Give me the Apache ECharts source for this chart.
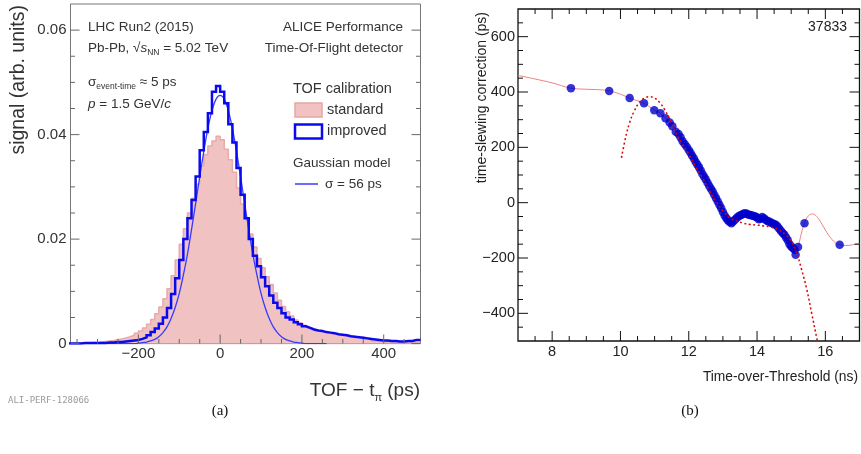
<!DOCTYPE html>
<html><head><meta charset="utf-8">
<script src="https://cdn.jsdelivr.net/npm/echarts@6/dist/echarts.min.js"></script>
<style>html,body{margin:0;padding:0;background:#fff;}#c{width:861px;height:454px;}</style>
</head><body><div id="c"></div>
<script>
// ---------- Panel (a): TOF - t_pi histograms (10 ps bins from -370 ps) ----------
const BIN_FIRST_EDGE = -370;   // ps
const BIN_WIDTH = 10;          // ps
const standardVals = [
  0.0000,0.0001,0.0001,0.0001,0.0001,0.0002,0.0002,0.0003,0.0004,0.0005,
  0.0006,0.0008,0.0009,0.0011,0.0013,0.0016,0.0020,0.0024,0.0030,0.0037,
  0.0046,0.0057,0.0070,0.0086,0.0105,0.0130,0.0160,0.0190,0.0220,0.0250,
  0.0278,0.0305,0.0340,0.0362,0.0378,0.0388,0.0397,
  0.0390,0.0372,0.0352,0.0328,0.0298,0.0267,0.0240,0.0210,0.0185,0.0163,
  0.0145,0.0128,0.0113,0.0097,0.0083,0.0071,0.0061,0.0053,0.0045,0.0040,
  0.0035,0.0031,0.0028,0.0025,0.0023,0.0021,0.0020,0.0018,0.0017,0.0016,
  0.0015,0.0014,0.0013,0.0012,0.0012,0.0011,0.0010,0.0005,
  0.0004,0.0004,0.0003,0.0003,0.0003,0.0003,0.0003,0.0002,0.0002,0.0002,0.0002];
const improvedVals = [
  0.0000,0.0000,0.0000,0.0001,0.0001,0.0001,0.0001,0.0001,0.0001,0.0002,
  0.0002,0.0003,0.0003,0.0004,0.0005,0.0006,0.0007,0.0009,0.0012,0.0016,
  0.0022,0.0029,0.0038,0.0050,0.0068,0.0095,0.0125,0.0160,0.0200,0.0240,
  0.0275,0.0320,0.0370,0.0405,0.0441,0.0482,0.0493,
  0.0482,0.0460,0.0420,0.0385,0.0336,0.0285,0.0240,0.0200,0.0168,0.0148,
  0.0127,0.0110,0.0092,0.0078,0.0068,0.0058,0.0050,0.0046,0.0041,0.0037,
  0.0033,0.0030,0.0027,0.0025,0.0024,0.0022,0.0021,0.0020,0.0018,0.0017,
  0.0016,0.0014,0.0013,0.0012,0.0011,0.0010,0.0009,0.0008,0.0007,0.0006,
  0.0006,0.0005,0.0005,0.0004,0.0004,0.0005,0.0005,0.0007,0.0007];
const gaussT = [-360,-350,-340,-330,-320,-310,-300,-290,-280,-270,-260,-250,-240,-230,-220,-210,
  -200,-190,-180,-170,-160,-150,-140,-130,-120,-110,-100,-90,-80,-70,-60,-50,-40,-30,-20,-10,
  0,10,20,30,40,50,60,70,80,90,100,110,120,130,140,150,160,170,180,190,200,210,220,230,240,250,260];
const gaussVals = [0,0,0,0,0,0,0,0,0,0,0,0,0,0,0,0,
  0.0001,0.0002,0.0003,0.0005,0.0008,0.0013,0.0021,0.0032,0.0048,0.0069,0.0096,0.0131,0.0171,0.0218,0.0268,0.0319,0.0368,0.0412,0.0446,0.0468,
  0.0475,0.0468,0.0446,0.0412,0.0368,0.0319,0.0268,0.0218,0.0171,0.0131,0.0096,0.0069,0.0048,0.0032,0.0021,0.0013,0.0008,0.0005,0.0003,0.0002,0.0001,0,0,0,0,0,0];
const aXMajor = [-200,0,200,400];
const aXMinor = [-350,-300,-250,-150,-100,-50,50,100,150,250,300,350,450];
const aYMajor = [0,0.02,0.04,0.06];
const aYMinor = [0.005,0.01,0.015,0.025,0.03,0.035,0.045,0.05,0.055];

// ---------- Panel (b): time-slewing correction ----------
const totX = [8.55,9.67,10.27,10.69,10.99,11.17,11.32,11.44,11.52,11.62,11.70,11.76,11.82,11.88,11.94,
  12.00,12.05,12.10,12.15,12.20,12.25,12.30,12.35,12.40,12.45,12.50,12.55,12.60,12.65,12.70,12.75,
  12.80,12.85,12.90,12.95,13.00,13.05,13.10,13.15,13.20,13.25,13.30,13.35,13.40,13.45,13.50,13.55,
  13.60,13.65,13.70,13.75,13.80,13.85,13.90,13.95,14.00,14.05,14.10,14.15,14.20,14.25,14.30,14.35,
  14.40,14.45,14.50,14.55,14.60,14.65,14.70,14.75,14.80,14.85,14.90,14.95,15.00,15.05,15.10,15.13,
  15.20,15.39,16.42];
const totY = [414,404,378,359,334,323,305,290,276,256,248,236,222,212,202,
  190,180,170,160,148,138,128,116,104,94,84,72,60,50,40,28,
  16,4,-8,-20,-34,-46,-56,-64,-70,-74,-68,-62,-55,-50,-46,-44,
  -40,-38,-40,-44,-45,-46,-48,-50,-54,-60,-58,-52,-56,-62,-66,-68,
  -72,-74,-78,-80,-86,-94,-102,-110,-116,-126,-136,-150,-158,-164,-170,-188,
  -160,-74,-152];
const curveX = [7,7.5,8,8.55,9.0,9.4,9.67,10.0,10.27,10.69,11.0,11.17,11.32,11.44,11.54,11.64,11.8,12.0,
  12.2,12.4,12.6,12.8,13.0,13.15,13.25,13.4,13.6,13.8,14.0,14.2,14.4,14.6,14.8,15.0,15.13,15.2,15.3,
  15.39,15.5,15.62,15.75,15.9,16.1,16.3,16.42,16.6,16.8,17];
const curveY = [460,447,433,414,410,408,404,392,378,359,334,323,305,290,275,256,226,190,
  148,104,60,16,-34,-64,-72,-56,-40,-45,-54,-56,-72,-86,-116,-158,-175,-160,-110,
  -74,-48,-41,-50,-78,-118,-146,-152,-155,-152,-148];
const fitX = [10.03,10.15,10.27,10.4,10.55,10.7,10.86,11.0,11.15,11.3,11.45,11.6,11.8,12.0,12.2,12.4,
  12.6,12.8,13.0,13.2,13.4,13.6,13.8,14.0,14.2,14.4,14.6,14.8,15.0,15.15,15.3,15.45,15.6,15.75,15.8];
const fitY = [162,235,290,330,362,378,383,378,362,335,298,258,215,175,130,90,
  45,5,-30,-55,-66,-74,-79,-81,-84,-88,-96,-112,-140,-178,-240,-310,-400,-490,-520];
const bXMajor = [8,10,12,14,16];
const bXMinor = [7.5,8.5,9,9.5,10.5,11,11.5,12.5,13,13.5,14.5,15,15.5,16.5];
const bYMajor = [-400,-200,0,200,400,600];
const bYMinor = [-450,-350,-300,-250,-150,-100,-50,50,100,150,250,300,350,450,500,550,650];

const F = '"Liberation Sans", Arial, Helvetica, sans-serif';
const A_X = [-366, 490], A_Y = [0, 0.065];
const B_X = [7, 17], B_Y = [-500, 700];

function steps(vals){
  const pts=[];
  vals.forEach((v,i)=>{const lo=BIN_FIRST_EDGE+i*BIN_WIDTH; pts.push([lo,v],[lo+BIN_WIDTH,v]);});
  return pts;
}
function zip(a,b){return a.map((x,i)=>[x,b[i]]);}
const neg = v=>v<0?'\u2212'+(-v):String(v);

function labelAxis(grid,pos,ext,ticks,label){
  return {type:'value', gridIndex:grid, position:pos, min:ext[0], max:ext[1],
    axisLine:{show:false,onZero:false}, splitLine:{show:false}, axisTick:{show:false},
    axisLabel:Object.assign({show:true, customValues:ticks, fontFamily:F}, label)};
}
const xAxes = [
  labelAxis(0,'bottom',A_X,aXMajor,{fontSize:15,color:'#333',margin:3,formatter:neg}),
  labelAxis(1,'bottom',B_X,bXMajor,{fontSize:14.5,color:'#222',margin:3})
];
const yAxes = [
  labelAxis(0,'left',A_Y,aYMajor,{fontSize:15,color:'#333',margin:4,formatter:v=>v===0?'0':v.toFixed(2)}),
  labelAxis(1,'left',B_Y,bYMajor,{fontSize:14.5,color:'#222',margin:3,formatter:neg})
];

// tick marks as thin rect symbols placed at the frame edges through the axes' scales
function tickItems(xExt, yExt, xMaj, xMin, yMaj, yMin, majLen, minLen, sides){
  const out = [];
  const addX = (v,len)=>{
    if(sides.bottom) out.push({value:[v, yExt[0]], symbolSize:[1,len], symbolOffset:[0,-len/2]});
    if(sides.top) out.push({value:[v, yExt[1]], symbolSize:[1,len], symbolOffset:[0,len/2]});
  };
  const addY = (v,len)=>{
    if(sides.left) out.push({value:[xExt[0], v], symbolSize:[len,1], symbolOffset:[len/2,0]});
    if(sides.right) out.push({value:[xExt[1], v], symbolSize:[len,1], symbolOffset:[-len/2,0]});
  };
  xMaj.forEach(v=>addX(v,majLen)); xMin.forEach(v=>addX(v,minLen));
  yMaj.forEach(v=>addY(v,majLen)); yMin.forEach(v=>addY(v,minLen));
  return out;
}
function tickSeries(idx, items, color){
  return {type:'scatter', xAxisIndex:idx, yAxisIndex:idx, symbol:'rect', data:items, silent:true, clip:false, z:20,
    itemStyle:{color:color, opacity:1}, emphasis:{disabled:true}, tooltip:{show:false}};
}

function txt(x,y,text,size,opts){
  return Object.assign({type:'text', x:x, y:y, z:100, style:Object.assign({text:text, fontSize:size, fontFamily:F, fill:'#333',
    align:'left', textAlign:'left', verticalAlign:'middle', textVerticalAlign:'middle'}, opts&&opts.style||{})}, opts&&opts.el||{});
}
const subRich = {
  sub:{fontSize:8.5, fontFamily:F, fill:'#333', verticalAlign:'bottom', lineHeight:18},
  i:{fontStyle:'italic', fontSize:13.5, fontFamily:F, fill:'#333', lineHeight:18},
  n:{fontSize:13.5, fontFamily:F, fill:'#333', lineHeight:18}
};
const serif = '"Liberation Serif", "Times New Roman", serif';
const graphics = [
  txt(88,27,'LHC Run2 (2015)',13.5),
  txt(88,48,'{n|Pb-Pb, \u221A}{i|s}{sub|NN}{n| = 5.02 TeV}',13.5,{style:{rich:subRich}}),
  txt(88,82,'{n|\u03C3}{sub|event-time}{n| \u2248 5 ps}',13.5,{style:{rich:subRich}}),
  txt(88,104,'{i|p}{n| = 1.5 GeV/}{i|c}',13.5,{style:{rich:subRich}}),
  txt(403,27,'ALICE Performance',13.5,{style:{align:'right',textAlign:'right'}}),
  txt(403,48,'Time-Of-Flight detector',13.5,{style:{align:'right',textAlign:'right'}}),
  txt(293,89,'TOF calibration',14.5),
  {type:'rect', shape:{x:295,y:103,width:27,height:14}, style:{fill:'#f0c2c2', stroke:'#e6a6a6', lineWidth:1.5}, z:100},
  txt(327,110,'standard',14.5),
  {type:'rect', shape:{x:295,y:124.5,width:27,height:14}, style:{fill:'#fff', stroke:'#0a0aee', lineWidth:2.5}, z:100},
  txt(327,131,'improved',14.5),
  txt(293,163,'Gaussian model',13.5),
  {type:'line', shape:{x1:295,y1:184,x2:318,y2:184}, style:{stroke:'#3a3aff', lineWidth:1.5}, z:100},
  txt(325,184,'\u03C3 = 56 ps',13.5),
  txt(19,5,'signal (arb. units)',19.5,{el:{rotation:Math.PI/2}, style:{align:'right',textAlign:'right'}}),
  txt(420,391,'{n|TOF \u2212 t}{sub|\u03C0}{n| (ps)}',19,{style:{align:'right',textAlign:'right',
     rich:{n:{fontSize:19,fontFamily:F,fill:'#333',lineHeight:24}, sub:{fontSize:11,fontFamily:F,fill:'#333',verticalAlign:'bottom',lineHeight:24}}}}),
  txt(8,401,'ALI-PERF-128066',9,{style:{fontFamily:'"DejaVu Sans Mono", monospace', fill:'#9a9a9a'}}),
  txt(847,27,'37833',14,{style:{align:'right',textAlign:'right',fill:'#222'}}),
  txt(858,377,'Time-over-Threshold (ns)',13.8,{style:{align:'right',textAlign:'right',fill:'#222'}}),
  txt(482,12,'time-slewing correction (ps)',14,{el:{rotation:Math.PI/2}, style:{align:'right',textAlign:'right',fill:'#222'}}),
  txt(220,411,'(a)',15,{style:{align:'center',textAlign:'center',fontFamily:serif,fill:'#111'}}),
  txt(690,411,'(b)',15,{style:{align:'center',textAlign:'center',fontFamily:serif,fill:'#111'}})
];

const option = {
  animation:false,
  textStyle:{fontFamily:F},
  grid:[
    {left:70.5, top:4, width:350, height:339.6, show:true, borderColor:'#777', borderWidth:1},
    {left:518, top:9, width:341.5, height:332, show:true, borderColor:'#111', borderWidth:1.3}
  ],
  xAxis:xAxes, yAxis:yAxes,
  series:[
    {type:'line', name:'standard', xAxisIndex:0, yAxisIndex:0, data:steps(standardVals), symbol:'none',
      lineStyle:{color:'#e8aaaa', width:1.5}, areaStyle:{color:'#f0c2c2', opacity:1}, z:2},
    {type:'line', name:'Gaussian', xAxisIndex:0, yAxisIndex:0, data:zip(gaussT,gaussVals), symbol:'none', smooth:0.3,
      lineStyle:{color:'#3a3aff', width:1.3}, z:3},
    {type:'line', name:'improved', xAxisIndex:0, yAxisIndex:0, data:steps(improvedVals), symbol:'none',
      lineStyle:{color:'#0a0aee', width:2.5, join:'miter'}, z:4},
    tickSeries(0, tickItems(A_X, A_Y, aXMajor, aXMinor, aYMajor, aYMinor, 9, 4.5, {bottom:true, top:false, left:true, right:true}), '#666'),
    {type:'line', name:'spline', xAxisIndex:1, yAxisIndex:1, data:zip(curveX,curveY), symbol:'none', smooth:0.4,
      lineStyle:{color:'#ee8080', width:1}, z:2},
    {type:'scatter', name:'points', xAxisIndex:1, yAxisIndex:1, data:zip(totX,totY), symbol:'circle', symbolSize:8.5,
      itemStyle:{color:'#0000cc'}, z:3},
    {type:'line', name:'fit', xAxisIndex:1, yAxisIndex:1, data:zip(fitX,fitY), symbol:'none', smooth:0.4, clip:true,
      lineStyle:{color:'#dd0000', width:1.5, type:[2,2.5]}, z:4},
    tickSeries(1, tickItems(B_X, B_Y, bXMajor, bXMinor, bYMajor, bYMinor, 10, 5, {bottom:true, top:true, left:true, right:true}), '#111')
  ],
  graphic:graphics
};
const chart = echarts.init(document.getElementById('c'), null, {renderer:'canvas'});
chart.setOption(option);
</script></body></html>
